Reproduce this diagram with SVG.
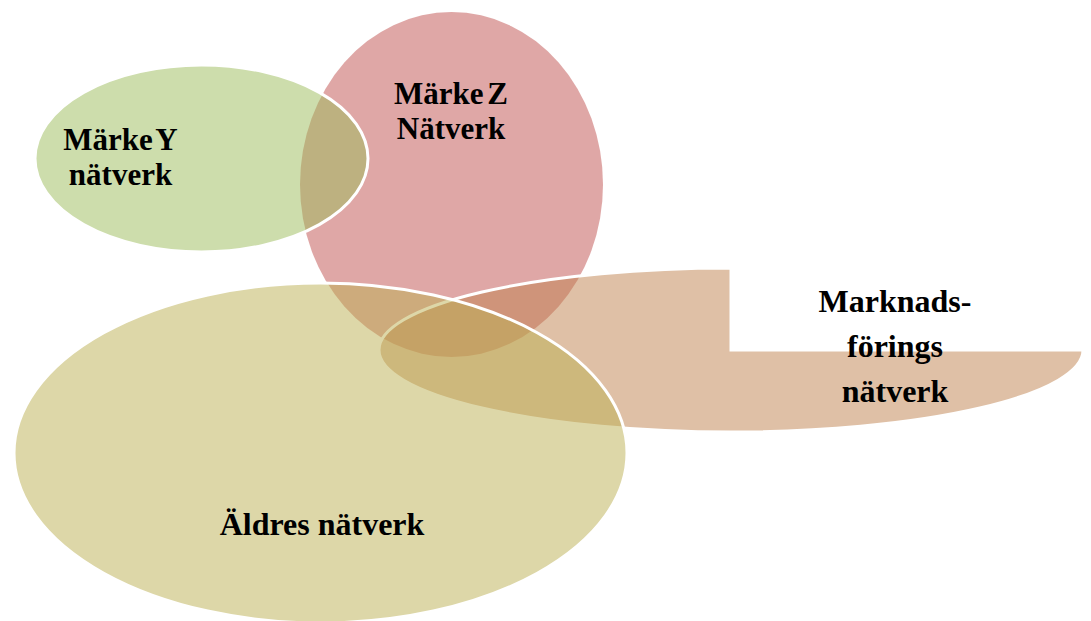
<svg xmlns="http://www.w3.org/2000/svg" width="1091" height="621" viewBox="0 0 1091 621">
  <style>
    .lbl { font-family: "Liberation Serif", "Times New Roman", serif; font-weight: bold; font-size: 32px; fill: #000; text-anchor: middle; }
    .sm { font-size: 31px; }
    .tight { word-spacing: -4px; }
    .edge { stroke: #ffffff; stroke-width: 3; }
  </style>
  <rect x="0" y="0" width="1091" height="621" fill="#ffffff"/>
  <g id="marke-z">
    <ellipse cx="451.5" cy="184.5" rx="151.5" ry="172.5" fill="#C0504D" fill-opacity="0.5"/>
    <text class="lbl sm"><tspan class="tight" x="451" y="104">Märke Z</tspan><tspan x="451" dy="35">Nätverk</tspan></text>
  </g>
  <g id="marke-y">
    <ellipse class="edge" cx="201.5" cy="158.5" rx="166.5" ry="93.5" fill="#9BBB59" fill-opacity="0.5"/>
    <text class="lbl sm"><tspan class="tight" x="120.5" y="150">Märke Y</tspan><tspan x="120.5" dy="35">nätverk</tspan></text>
  </g>
  <g id="marknadsforings">
    <path class="edge" d="M 379,350 A 352,82 0 0 1 731,268 L 731,350 L 1083,350 A 352,82 0 0 1 731,432 A 352,82 0 0 1 379,350 Z" fill="#BF814D" fill-opacity="0.5"/>
    <text class="lbl"><tspan x="895" y="312">Marknads-</tspan><tspan x="895" dy="45">förings</tspan><tspan x="895" dy="45">nätverk</tspan></text>
  </g>
  <g id="aldres">
    <ellipse class="edge" cx="320.5" cy="453" rx="306.5" ry="170" fill="#BBAF52" fill-opacity="0.5"/>
    <text class="lbl" x="322" y="535">Äldres nätverk</text>
  </g>
  <g id="connectors"/>
</svg>
